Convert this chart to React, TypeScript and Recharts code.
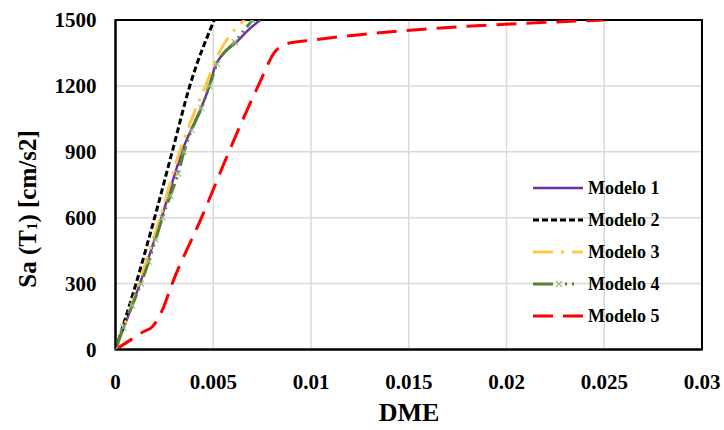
import React from "react";
import {
  LineChart,
  Line,
  XAxis,
  YAxis,
  CartesianGrid,
  ReferenceArea,
  Legend,
} from "recharts";

// DME / Sa(T1) pairs per model
const modelo1Dme = [0, 0.00125, 0.00235, 0.0034, 0.0048, 0.0051, 0.0055, 0.0062, 0.0068, 0.0074];
const modelo1Sa = [0, 300, 600, 900, 1200, 1290, 1345, 1400, 1455, 1500];

const modelo2Dme = [0, 0.00105, 0.002, 0.0029, 0.0038, 0.00505];
const modelo2Sa = [0, 300, 600, 900, 1200, 1500];

const modelo3Dme = [0, 0.0012, 0.00228, 0.00328, 0.0046, 0.0053, 0.0066];
const modelo3Sa = [0, 300, 600, 900, 1200, 1350, 1500];

const modelo4Dme = [
  0, 0.0004, 0.00085, 0.0013, 0.0017, 0.00205, 0.0024, 0.0028, 0.0032, 0.0035,
  0.0039, 0.0044, 0.0048, 0.0052, 0.0061, 0.007,
];
const modelo4Sa = [
  0, 100, 200, 300, 400, 500, 600, 700, 800, 900, 1000, 1100, 1200, 1300, 1400, 1500,
];

const modelo5Dme = [0, 0.0008, 0.0014, 0.0019, 0.0024, 0.0029, 0.0044, 0.0058, 0.0073, 0.0082, 0.0089, 0.01, 0.025];
const modelo5Sa = [0, 45, 80, 105, 180, 300, 600, 900, 1200, 1360, 1395, 1408, 1500];

const xTicks = [0, 0.005, 0.01, 0.015, 0.02, 0.025, 0.03];
const yTicks = [0, 300, 600, 900, 1200, 1500];

const zip = (xs: number[], ys: number[]) => xs.map((x, i) => ({ x, y: ys[i] }));

const FONT = "'Liberation Serif', 'Times New Roman', serif";

const series = [
  { name: "Modelo 1", data: zip(modelo1Dme, modelo1Sa), color: "#7030A0", dash: undefined, width: 2.5 },
  { name: "Modelo 2", data: zip(modelo2Dme, modelo2Sa), color: "#000000", dash: "6 3", width: 3 },
  { name: "Modelo 3", data: zip(modelo3Dme, modelo3Sa), color: "#FFC742", dash: "20 8 3 8", width: 3 },
  { name: "Modelo 4", data: zip(modelo4Dme, modelo4Sa), color: "#548235", dash: "20 5 2 5 2 5", width: 3 },
  { name: "Modelo 5", data: zip(modelo5Dme, modelo5Sa), color: "#FF0000", dash: "20 10", width: 3 },
];

const XMark = (props: any) => {
  const { cx, cy, index } = props;
  if (cx == null || cy == null) return <g key={index} />;
  return (
    <path
      key={index}
      d={`M${cx - 3},${cy - 3}L${cx + 3},${cy + 3}M${cx + 3},${cy - 3}L${cx - 3},${cy + 3}`}
      stroke="#9CBB86"
      strokeWidth={1.2}
      fill="none"
    />
  );
};

const LegendBox = () => (
  <svg width={180} height={165}>
    {series.map((s, i) => {
      const y = 16 + i * 32;
      return (
        <g key={s.name}>
          {s.name === "Modelo 4" ? (
            <g>
              <line x1={3} y1={y} x2={23} y2={y} stroke={s.color} strokeWidth={3} />
              <path
                d={`M${26},${y - 3}L${32},${y + 3}M${32},${y - 3}L${26},${y + 3}`}
                stroke="#9CBB86"
                strokeWidth={1.2}
              />
              <line x1={35} y1={y} x2={53} y2={y} stroke={s.color} strokeWidth={3} strokeDasharray="2 5 2 9" />
            </g>
          ) : (
            <line
              x1={3}
              y1={y}
              x2={53}
              y2={y}
              stroke={s.color}
              strokeWidth={s.width}
              strokeDasharray={s.dash}
            />
          )}
          <text x={58} y={y + 6} fontFamily={FONT} fontWeight="bold" fontSize={18} fill="#000">
            {s.name}
          </text>
        </g>
      );
    })}
  </svg>
);

const YTitle = () => (
  <text
    x={27}
    y={209}
    transform="rotate(-90 27 209)"
    textAnchor="middle"
    dominantBaseline="central"
    fontFamily={FONT}
    fontWeight="bold"
    fontSize={25}
    fill="#000"
  >
    Sa (T<tspan fontSize={15} dy={5}>1</tspan>
    <tspan dy={-5}>) [cm/s2]</tspan>
  </text>
);

const XTitle = () => (
  <text
    x={409}
    y={421}
    textAnchor="middle"
    fontFamily={FONT}
    fontWeight="bold"
    fontSize={26}
    fill="#000"
  >
    DME
  </text>
);

export default function App() {
  const tickStyle = { fontFamily: FONT, fontWeight: "bold" as const, fontSize: 21, fill: "#000" };
  return (
    <div style={{ position: "absolute", left: 0, top: 0, width: 724, height: 430, background: "#fff" }}>
      <LineChart width={724} height={430} margin={{ top: 20, right: 22, bottom: 0, left: 0 }}>
        <CartesianGrid stroke="#d9d9d9" strokeWidth={1.5} />
        <XAxis
          type="number"
          dataKey="x"
          domain={[0, 0.03]}
          ticks={xTicks}
          allowDataOverflow
          height={80.5}
          tickSize={0}
          tickMargin={25}
          axisLine={{ stroke: "#000", strokeWidth: 2 }}
          tick={tickStyle}
          label={<XTitle />}
        />
        <YAxis
          type="number"
          dataKey="y"
          domain={[0, 1500]}
          ticks={yTicks}
          allowDataOverflow
          width={115.5}
          tickSize={0}
          tickMargin={19}
          axisLine={{ stroke: "#000", strokeWidth: 2 }}
          tick={tickStyle}
          label={<YTitle />}
        />
        <ReferenceArea x1={0} x2={0.03} y1={0} y2={1500} fill="none" stroke="#000" strokeWidth={2} />
        {series.map((s) => (
          <Line
            key={s.name}
            name={s.name}
            data={s.data}
            dataKey="y"
            type="monotone"
            stroke={s.color}
            strokeWidth={s.width}
            strokeDasharray={s.dash}
            dot={s.name === "Modelo 4" ? XMark : false}
            activeDot={false}
            isAnimationActive={false}
          />
        ))}
        <Legend
          layout="vertical"
          align="center"
          verticalAlign="middle"
          wrapperStyle={{ position: "absolute", left: 530, top: 172, width: 180, height: 165 }}
          content={<LegendBox />}
        />
      </LineChart>
    </div>
  );
}
